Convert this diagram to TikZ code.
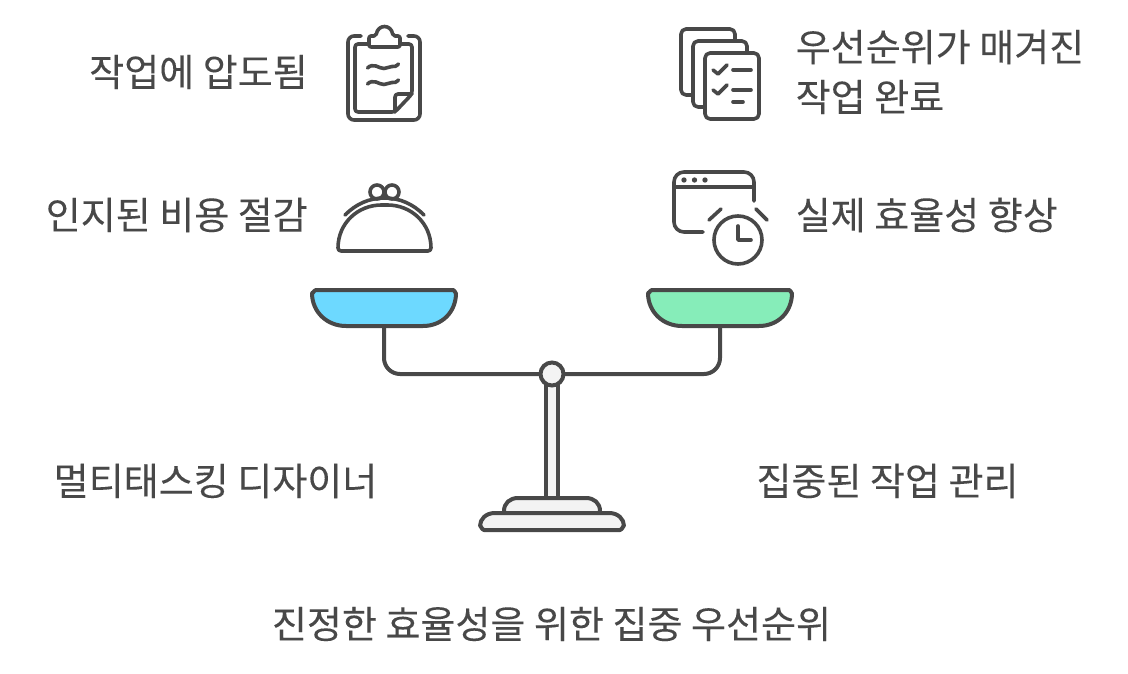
\documentclass[tikz,border=0pt]{standalone}
\usepackage{fontspec}
\newfontfamily\krfont[FakeBold=0.12]{Noto Sans CJK KR}
\definecolor{ink}{HTML}{484848}
\definecolor{soft}{HTML}{F3F3F3}
\definecolor{panblue}{HTML}{6DD9FF}
\definecolor{pangreen}{HTML}{86EDB9}
\tikzset{
  label text/.style={font=\krfont\fontsize{38.05}{46}\selectfont, text=ink, inner sep=0pt},
  icon/.style={draw=ink, line width=3.6pt, line cap=round, line join=round},
  scale line/.style={draw=ink, line width=4pt, line cap=round, line join=round},
}
\begin{document}
\begin{tikzpicture}[x=1pt,y=-1pt]
\useasboundingbox (0,0) rectangle (1128,674);
% labels
\node[label text,anchor=east] (t1) at (308,72) {작업에 압도됨};
\node[label text,anchor=east] (t2) at (308,215) {인지된 비용 절감};
\node[label text,anchor=west] (t3) at (795.5,47) {우선순위가 매겨진};
\node[label text,anchor=west] (t4) at (795.5,97) {작업 완료};
\node[label text,anchor=west] (t5) at (795.5,215) {실제 효율성 향상};
\node[label text] (t6) at (215.5,481) {멀티태스킹 디자이너};
\node[label text] (t7) at (887.5,481) {집중된 작업 관리};
\node[label text] (t8) at (551.5,624) {진정한 효율성을 위한 집중 우선순위};
% clipboard
\draw[icon,rounded corners=6pt] (361,36) -- (348,36) -- (348,120) -- (420,120) -- (420,36) -- (408,36);
\draw[icon,rounded corners=3pt] (368,44) -- (355,44) -- (355,112) -- (395,112) -- (412,94) -- (412,44) -- (401,44);
\draw[icon,rounded corners=3pt] (412,94) -- (395,94) -- (395,112);
\draw[icon,fill=white,rounded corners=2pt] (369,47) -- (400,47) -- (400,36) -- (393,36) .. controls (391,24) and (378,24) .. (376,36) -- (369,36) -- cycle;
\draw[icon] (367.5,68) .. controls (370,65.5) and (373,65) .. (376,66) .. controls (379,67) and (381,68.5) .. (384,68.5) .. controls (387,68.5) and (389,66.5) .. (392,66.5) .. controls (394,67) and (396,66.5) .. (398.5,64);
\draw[icon] (367.5,84) .. controls (370,81.5) and (373,81) .. (376,82) .. controls (379,83) and (381,84.5) .. (384,84.5) .. controls (387,84.5) and (389,82.5) .. (392,82.5) .. controls (394,83) and (396,82.5) .. (398.5,80);
% documents
\draw[icon,fill=white,rounded corners=5pt] (681,29) rectangle (735,95);
\draw[icon,fill=white,rounded corners=5pt] (693,41) rectangle (747,107);
\draw[icon,fill=white,rounded corners=5pt] (705,53) rectangle (759,119);
\draw[icon] (713,70) -- (718,74) -- (727,65);
\draw[icon] (733,70) -- (751,70);
\draw[icon] (713,90) -- (718,94) -- (727,85);
\draw[icon] (733,90) -- (751,90);
\draw[icon] (733,102) -- (743,102);
% purse
\draw[icon,rounded corners=3pt] (338,251) .. controls (338,223) and (358,205) .. (384.5,205) .. controls (411,205) and (431,223) .. (431,251) -- cycle;
\draw[icon] (345,215) .. controls (356,204) and (369,198) .. (384.5,198) .. controls (400,198) and (413,204) .. (424,215);
\draw[icon] (377,192) circle[radius=7];
\draw[icon] (392,192) circle[radius=7];
% window and clock
\draw[icon,rounded corners=10pt] (703,232) -- (674,232) -- (674,172) -- (754,172) -- (754,201);
\draw[icon] (674,187) -- (754,187);
\fill[ink] (684,180) circle[radius=2.7] (694.5,180) circle[radius=2.7] (705,180) circle[radius=2.7];
\draw[icon] (738,240) circle[radius=24];
\draw[icon] (738,226) -- (738,240) -- (751,240);
\draw[icon] (709,220) -- (721,209);
\draw[icon] (756,209) -- (767,220);
% balance
\coordinate (hub) at (552,374);
\coordinate (lstem) at (384,326);
\coordinate (rstem) at (720,326);
\draw[scale line,rounded corners=16pt] (lstem) |- (hub) -| (rstem);
\draw[scale line,fill=soft] (546,384) rectangle (558,498);
\node[circle,draw=ink,fill=soft,line width=4pt,minimum size=23pt,inner sep=0pt] (pivot) at (hub) {};
\path[scale line,fill=panblue] (316,290) -- (453,290) to[out=0,in=-90] (456,293) .. controls (456,312) and (442,326) .. (423,326) -- (346,326) .. controls (327,326) and (312,312) .. (312,293) to[out=-90,in=180] cycle;
\path[scale line,fill=pangreen] (652,290) -- (789,290) to[out=0,in=-90] (792,293) .. controls (792,312) and (778,326) .. (759,326) -- (682,326) .. controls (663,326) and (648,312) .. (648,293) to[out=-90,in=180] cycle;
\path[scale line,fill=soft] (504,513) -- (504,511) .. controls (504,503) and (510,498) .. (518,498) -- (586,498) .. controls (594,498) and (600,503) .. (600,511) -- (600,513) -- cycle;
\path[scale line,fill=soft] (484,530) to[out=180,in=90] (480,526) .. controls (480,519) and (486,513) .. (495,513) -- (609,513) .. controls (618,513) and (624,519) .. (624,526) to[out=90,in=0] (620,530) -- cycle;
\end{tikzpicture}
\end{document}
